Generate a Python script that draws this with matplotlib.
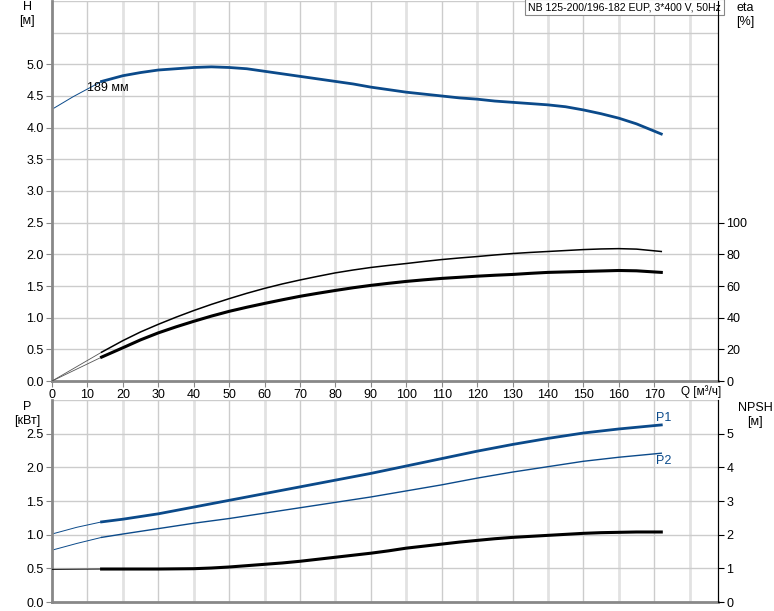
import numpy as np
import matplotlib.pyplot as plt

plt.rcParams['font.family'] = ['Liberation Sans', 'DejaVu Sans']
plt.rcParams['font.size'] = 9

# H curve (m)
q_h = [14, 20, 25, 30, 35, 40, 45, 50, 55, 60, 65, 70, 75, 80, 85, 90, 95, 100, 105, 110,
       115, 120, 125, 130, 135, 140, 145, 150, 155, 160, 165, 172]
h = [4.73, 4.82, 4.87, 4.91, 4.93, 4.95, 4.96, 4.95, 4.93, 4.89, 4.85, 4.81, 4.77, 4.73, 4.69, 4.64,
     4.60, 4.56, 4.53, 4.50, 4.47, 4.45, 4.42, 4.40, 4.38, 4.36, 4.33, 4.28, 4.22, 4.15, 4.06, 3.90]
q_h_ext = [0, 3, 6, 9, 12, 14]
h_ext = [4.29, 4.39, 4.49, 4.58, 4.67, 4.73]

# eta curves (%)
q_eta = [14, 20, 25, 30, 35, 40, 45, 50, 55, 60, 65, 70, 75, 80, 85, 90, 95, 100, 105, 110,
         115, 120, 125, 130, 135, 140, 145, 150, 155, 160, 165, 172]
eta_pump = [18.2, 25.5, 31.0, 35.8, 40.3, 44.5, 48.4, 52.0, 55.4, 58.5, 61.3, 63.8, 66.1, 68.3, 70.1, 71.7,
            73.0, 74.2, 75.5, 76.7, 77.7, 78.6, 79.6, 80.5, 81.2, 81.8, 82.4, 83.0, 83.4, 83.6, 83.3, 81.8]
eta_tot = [15.1, 21.0, 26.0, 30.4, 34.2, 37.7, 41.0, 44.0, 46.6, 49.0, 51.3, 53.5, 55.4, 57.2, 58.9, 60.4,
           61.7, 62.9, 63.9, 64.8, 65.5, 66.2, 66.8, 67.3, 68.0, 68.6, 68.9, 69.2, 69.5, 69.8, 69.6, 68.6]
q_eta_ext = [0, 14]
eta_pump_ext = [0, 18.2]
eta_tot_ext = [0, 15.1]

# power curves (kW)
q_p = [14, 20, 30, 40, 50, 60, 70, 80, 90, 100, 110, 120, 130, 140, 150, 160, 172]
p1 = [1.19, 1.23, 1.31, 1.41, 1.51, 1.61, 1.71, 1.81, 1.91, 2.02, 2.13, 2.24, 2.34, 2.43, 2.51, 2.57, 2.63]
p2 = [0.96, 1.01, 1.09, 1.17, 1.24, 1.32, 1.40, 1.48, 1.56, 1.65, 1.74, 1.84, 1.93, 2.01, 2.09, 2.15, 2.21]
q_p_ext = [0, 7, 14]
p1_ext = [1.01, 1.11, 1.19]
p2_ext = [0.77, 0.87, 0.96]

# NPSH (m)
q_npsh = [14, 30, 40, 45, 50, 55, 60, 65, 70, 75, 80, 85, 90, 95, 100, 105, 110, 115, 120,
          125, 130, 135, 140, 145, 150, 155, 160, 165, 172]
npsh = [0.98, 0.98, 0.99, 1.01, 1.04, 1.08, 1.12, 1.16, 1.21, 1.27, 1.33, 1.39, 1.45, 1.52, 1.60, 1.66,
        1.72, 1.78, 1.83, 1.88, 1.92, 1.95, 1.98, 2.01, 2.04, 2.06, 2.07, 2.08, 2.08]
q_npsh_ext = [0, 14]
npsh_ext = [0.97, 0.98]

blue = '#0b4a8a'
grid_c = '#cccccc'

fig = plt.figure(figsize=(7.74, 6.11), dpi=100)
ax1 = fig.add_axes([0.0672, 0.3764, 0.8604, 0.622])
ax2 = fig.add_axes([0.0672, 0.0147, 0.8604, 0.3306])


def style(ax):
    ax.set_xlim(0, 188)
    ax.set_xticks(np.arange(0, 180, 10))
    for x in np.arange(10, 190, 10):
        if x % 20 == 0:
            ax.axvline(x, color='#e2e2e2', lw=2, zorder=0)
        else:
            ax.axvline(x, color=grid_c, lw=1, zorder=0)
    ax.spines['top'].set_visible(False)
    ax.spines['left'].set_color('#888888')
    ax.spines['left'].set_linewidth(2)
    ax.spines['bottom'].set_color('#888888')
    ax.spines['bottom'].set_linewidth(2)
    ax.spines['right'].set_color('black')
    ax.tick_params(axis='both', length=4, color='#888888', labelsize=9, pad=2)


# ---- top chart: H and eta
style(ax1)
ax1.set_ylim(0, 6)
ax1.set_yticks(np.arange(0, 5.01, 0.5))
ax1.set_yticklabels(['%.1f' % v for v in np.arange(0, 5.01, 0.5)])
for y in np.arange(0.5, 6.01, 0.5):
    ax1.axhline(y, color=grid_c, lw=1, zorder=0)
ax1.text(183.3, -0.012, 'Q [м³/ч]', fontsize=8.5, ha='center', va='top',
         transform=ax1.get_xaxis_transform())

ax1.plot(q_h_ext, h_ext, color=blue, lw=0.7)
ax1.plot(q_h, h, color=blue, lw=2)
ax1.text(10, 4.63, '189 мм', fontsize=9, va='center')

eta_ax = ax1.twinx()
eta_ax.set_ylim(0, 240)
eta_ax.set_yticks(np.arange(0, 101, 20))
eta_ax.spines['top'].set_visible(False)
eta_ax.spines['left'].set_visible(False)
eta_ax.spines['bottom'].set_visible(False)
eta_ax.tick_params(axis='y', length=4, labelsize=9, pad=2)
eta_ax.plot(q_eta_ext, eta_pump_ext, color='#555555', lw=0.6)
eta_ax.plot(q_eta_ext, eta_tot_ext, color='#555555', lw=0.6)
eta_ax.plot(q_eta, eta_pump, color='black', lw=1.1)
eta_ax.plot(q_eta, eta_tot, color='black', lw=2.2)

ax1.text(1.004, 0.997, 'NB 125-200/196-182 EUP, 3*400 V, 50Hz', transform=ax1.transAxes,
         ha='right', va='top', fontsize=7.6,
         bbox=dict(boxstyle='square,pad=0.3', fc='white', ec='#888888', lw=0.8))

# ---- bottom chart: P and NPSH
style(ax2)
ax2.set_ylim(0, 3)
ax2.set_yticks(np.arange(0, 2.51, 0.5))
ax2.set_yticklabels(['%.1f' % v for v in np.arange(0, 2.51, 0.5)])
for y in np.arange(0.5, 3.01, 0.5):
    ax2.axhline(y, color=grid_c, lw=1, zorder=0)
ax2.set_xticklabels([])
ax2.tick_params(axis='x', length=0)

ax2.plot(q_p_ext, p1_ext, color=blue, lw=0.7)
ax2.plot(q_p_ext, p2_ext, color=blue, lw=0.7)
ax2.plot(q_p, p1, color=blue, lw=2)
ax2.plot(q_p, p2, color=blue, lw=1)
ax2.text(170.5, 2.73, 'P1', color=blue, fontsize=9, va='center')
ax2.text(170.5, 2.09, 'P2', color=blue, fontsize=9, va='center')

npsh_ax = ax2.twinx()
npsh_ax.set_ylim(0, 6)
npsh_ax.set_yticks(np.arange(0, 6, 1))
npsh_ax.spines['top'].set_visible(False)
npsh_ax.spines['left'].set_visible(False)
npsh_ax.spines['bottom'].set_visible(False)
npsh_ax.tick_params(axis='y', length=4, labelsize=9, pad=2)
npsh_ax.plot(q_npsh_ext, npsh_ext, color='black', lw=0.7)
npsh_ax.plot(q_npsh, npsh, color='black', lw=2.2)

# axis titles
fig.text(27 / 774, 1 - 14 / 611, 'H\n[м]', ha='center', va='center', fontsize=9, linespacing=1.3)
fig.text(27 / 774, 1 - 414 / 611, 'P\n[кВт]', ha='center', va='center', fontsize=9, linespacing=1.3)
fig.text(745 / 774, 1 - 15 / 611, 'eta\n[%]', ha='center', va='center', fontsize=9, linespacing=1.3)
fig.text(755 / 774, 1 - 415 / 611, 'NPSH\n[м]', ha='center', va='center', fontsize=9, linespacing=1.3)

fig.savefig('out.png', dpi=100)
